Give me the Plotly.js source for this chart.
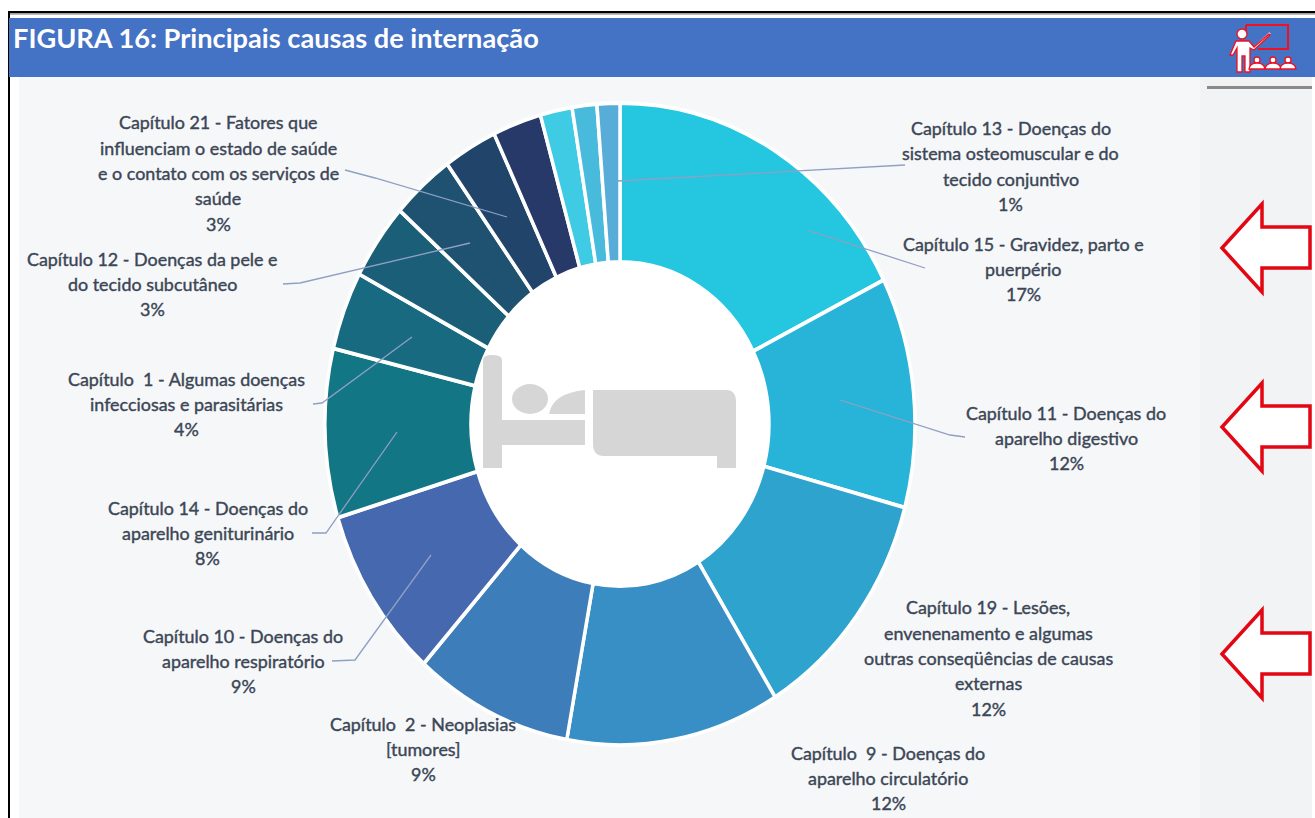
<!DOCTYPE html>
<html><head><meta charset="utf-8">
<script src="https://cdn.plot.ly/plotly-3.0.1.min.js"></script>
<style>html,body{margin:0;padding:0;background:#fff;overflow:hidden}#c{width:1315px;height:818px}
.annotation-text{stroke:#3B4656;stroke-width:.4px;paint-order:stroke}
</style>
</head><body><div id="c"></div>
<script>
const categories = ["Capítulo 15","Capítulo 11","Capítulo 19","Capítulo 9","Capítulo 2","Capítulo 10","Capítulo 14","Capítulo 1","Capítulo 12","Capítulo 21","Outro A","Outro B","Outro C","Outro D","Capítulo 13"];
const values = [17.6,11.6,12,11.7,8.7,8.7,8.5,3.95,3.85,3.45,2.95,2.67,1.75,1.35,1.25];
const sliceColors = ["#24C6E0","#27B4D8","#2EA3CE","#378FC5","#3D7DB9","#4568AE","#127685","#176A7F","#1B5E78","#1F5170","#20446A","#273968","#3FCBE4","#48BBDD","#57ADD7"];
const labelTexts = [
 "Capítulo 21 - Fatores que<br>influenciam o estado de saúde<br>e o contato com os serviços de<br>saúde<br>3%",
 "Capítulo 12 - Doenças da pele e<br>do tecido subcutâneo<br>3%",
 "Capítulo  1 - Algumas doenças<br>infecciosas e parasitárias<br>4%",
 "Capítulo 14 - Doenças do<br>aparelho geniturinário<br>8%",
 "Capítulo 10 - Doenças do<br>aparelho respiratório<br>9%",
 "Capítulo  2 - Neoplasias<br>[tumores]<br>9%",
 "Capítulo  9 - Doenças do<br>aparelho circulatório<br>12%",
 "Capítulo 19 - Lesões,<br>envenenamento e algumas<br>outras conseqüências de causas<br>externas<br>12%",
 "Capítulo 11 - Doenças do<br>aparelho digestivo<br>12%",
 "Capítulo 15 - Gravidez, parto e<br>puerpério<br>17%",
 "Capítulo 13 - Doenças do<br>sistema osteomuscular e do<br>tecido conjuntivo<br>1%"
];
const labelCentersX = [218,152,186,208,243,423,888,988,1066,1023,1011];
const labelCentersY = [173,284,404,533,661,749,778,658,438,269,166];

const W=1315,H=818,CX=620,CY=424,R=295,RY=321,LINE=25.4;
const fx=x=>x/W, fy=y=>1-y/H;
const P=(s)=>s.replace(/(-?[\d.]+),(-?[\d.]+)/g,(m,a,b)=>fx(+a)+','+fy(+b));
function rect(x0,y0,x1,y1,fill,layer,line){return {type:'rect',xref:'paper',yref:'paper',x0:fx(x0),x1:fx(x1),y0:fy(y0),y1:fy(y1),fillcolor:fill,line:line||{width:0},layer:layer||'below'};}
function path(d,fill,line,layer){return {type:'path',xref:'paper',yref:'paper',path:P(d),fillcolor:fill||'rgba(0,0,0,0)',line:line||{width:0},layer:layer||'above'};}
function ell(cx,cy,rx,ry,fill,line,layer){return {type:'circle',xref:'paper',yref:'paper',x0:fx(cx-rx),x1:fx(cx+rx),y0:fy(cy-ry),y1:fy(cy+ry),fillcolor:fill,line:line||{width:0},layer:layer||'above'};}

const shapes=[];
shapes.push(rect(19,77,1312,818,'#F6F7F8'));
shapes.push(rect(1200,77,1312,818,'#F2F3F4'));
shapes.push(rect(8,11,1315,13.5,'#000000'));
shapes.push(rect(8,13.5,1315,15,'#BDBDBD'));
shapes.push(rect(8,11,10,818,'#000000'));
shapes.push(rect(9,18,1315,77,'#4472C4'));
shapes.push(rect(1205,77,1312,86,'#F2F2F2'));
shapes.push(rect(1207,86,1312,89,'#8A8A8A'));
shapes.push(ell(CX,CY,152,168,'#F4F5F5',null,'below'));
shapes.push(ell(CX,CY,148,164,'#FFFFFF',null,'below'));
const bed='#D6D6D6';
shapes.push(path('M483,360 Q483,355 492,355 Q502,355 502,360 L502,420 L585,420 L585,445 L502,445 L502,468 L483,468 Z',bed));
shapes.push(ell(530,399,18,15,bed));
shapes.push(path('M549,414 Q553,393 585,390 L585,414 Z',bed));
shapes.push(path('M593,390 L726,390 Q736,390 736,402 L736,468 L717,468 L717,456 L604,456 Q593,456 593,444 Z',bed));
const lead={color:'#8FA0C4',width:1.3};
['M345,170 L375,178 L507,217','M283,284 L300,283 L470,243','M313,404 L322,403 L412,337','M312,533 L326,533 L397,432','M332,661 L355,660 L431,555','M965,437 L950,435 L840,400','M925,268 L807,230','M905,165 L618,181']
 .forEach(d=>shapes.push(path(d,null,lead)));
const red={color:'#E30613',width:3.5};
[248,427,654].forEach(c=>{
 const d=`M1222,${c} L1262,${c-44} L1262,${c-21} L1310,${c-21} L1310,${c+20} L1262,${c+20} L1262,${c+44} Z`;
 shapes.push(path(d,'#FFFFFF',red));
});
const ir={color:'#F01020',width:1.3};
shapes.push(path('M1246,25 L1288,25 L1288,49 L1258,49 M1246,25 L1246,31',null,{color:'#F01020',width:2}));
shapes.push(path('M1270,33 L1255,47',null,{color:'#FFFFFF',width:2}));
shapes.push(path('M1236,41 L1249,41 L1254,47 L1269,34 L1270,35 L1254,50 L1250,48 L1250,72 L1245,72 L1245,56 L1242,56 L1242,72 L1237,72 L1237,48 L1233,55 L1230,55 Z','#FFFFFF',ir));
shapes.push(ell(1242,34,5,5,'#FFFFFF',ir));
[1257,1273,1288].forEach(x=>{
 shapes.push(ell(x,60,3,3,'#FFFFFF',ir));
 shapes.push(path(`M${x-8},69 Q${x-7},63 ${x},63 Q${x+7},63 ${x+8},69 Z`,'#FFFFFF',ir));
});

const annotations=[];
labelTexts.forEach((t,i)=>{
  const lines=t.split('<br>');
  lines.forEach((ln,k)=>annotations.push({xref:'paper',yref:'paper',x:fx(labelCentersX[i]),y:fy(labelCentersY[i]+(k-(lines.length-1)/2)*LINE),text:ln,showarrow:false,align:'center',xanchor:'center',yanchor:'middle',
    font:{family:'Lato,sans-serif',size:17.9,color:'#3B4656'}}));
});
annotations.push({xref:'paper',yref:'paper',x:fx(11),y:fy(37),text:'<b>FIGURA 16: Principais causas de internação</b>',showarrow:false,xanchor:'left',yanchor:'middle',font:{family:'Lato,sans-serif',size:27.2,color:'#FFFFFF'}});

const layout={width:W,height:H,margin:{l:0,r:0,t:0,b:0},paper_bgcolor:'#FFFFFF',showlegend:false,shapes,annotations,hovermode:false};
const trace={type:'pie',labels:categories,values:values,sort:false,direction:'clockwise',rotation:0,hole:0.505,textinfo:'none',
  marker:{colors:sliceColors,line:{color:'#FFFFFF',width:3.5}},
  domain:{x:[fx(CX-R),fx(CX+R)],y:[fy(CY+R),fy(CY-R)]},hoverinfo:'skip'};
Plotly.newPlot('c',[trace],layout,{displayModeBar:false,staticPlot:true}).then(gd=>{
  const g=gd.querySelector('.pielayer');
  if(g) g.setAttribute('transform',`translate(0,${CY}) scale(1,${RY/R}) translate(0,${-CY})`);
  gd.querySelectorAll('.annotation-text').forEach(t=>{ if(/FIGURA/.test(t.textContent)) t.style.stroke='none'; });
});
</script></body></html>
